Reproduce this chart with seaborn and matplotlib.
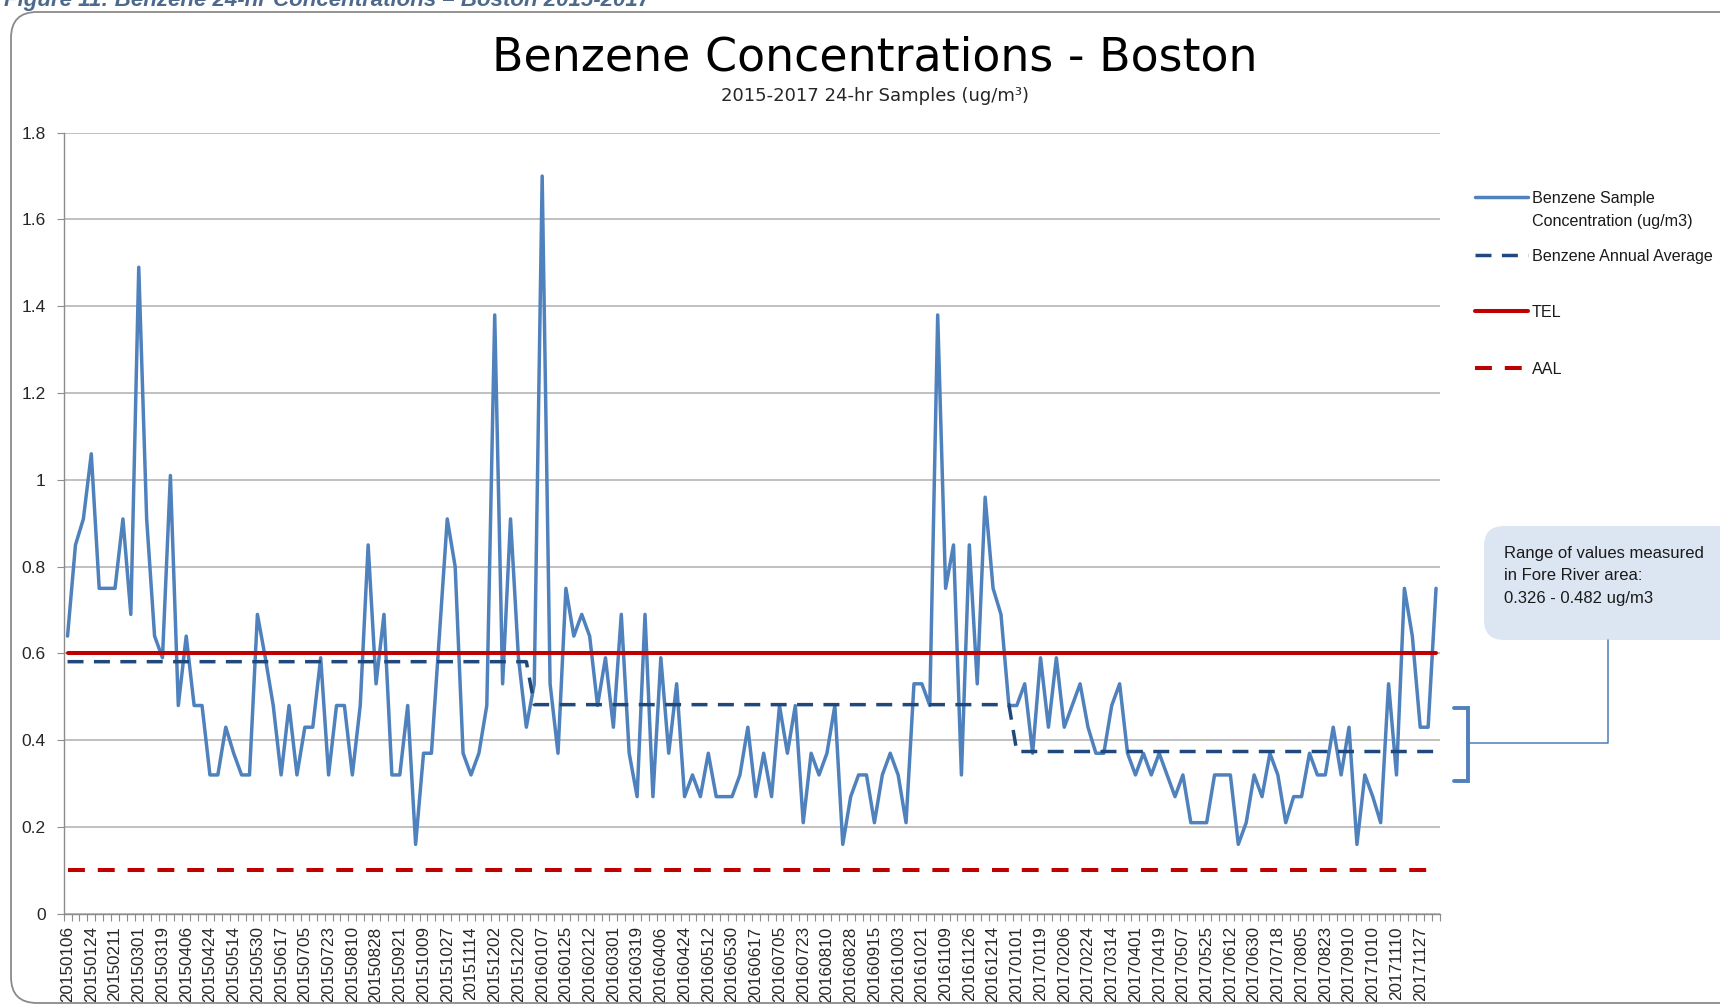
import numpy as np
import pandas as pd
import seaborn as sns
import matplotlib.pyplot as plt
from matplotlib.lines import Line2D
from matplotlib.patches import FancyBboxPatch
from matplotlib.transforms import IdentityTransform

# ============ data (ug/m3), one sample every ~6 days ============
sample_conc = [
    0.64, 0.85, 0.91, 1.06, 0.75, 0.75, 0.75, 0.91, 0.69, 1.49,
    0.91, 0.64, 0.59, 1.01, 0.48, 0.64, 0.48, 0.48, 0.32, 0.32,
    0.43, 0.37, 0.32, 0.32, 0.69, 0.59, 0.48, 0.32, 0.48, 0.32,
    0.43, 0.43, 0.59, 0.32, 0.48, 0.48, 0.32, 0.48, 0.85, 0.53,
    0.69, 0.32, 0.32, 0.48, 0.16, 0.37, 0.37, 0.64, 0.91, 0.80,
    0.37, 0.32, 0.37, 0.48, 1.38, 0.53, 0.91, 0.59, 0.43, 0.53,
    1.70, 0.53, 0.37, 0.75, 0.64, 0.69, 0.64, 0.48, 0.59, 0.43,
    0.69, 0.37, 0.27, 0.69, 0.27, 0.59, 0.37, 0.53, 0.27, 0.32,
    0.27, 0.37, 0.27, 0.27, 0.27, 0.32, 0.43, 0.27, 0.37, 0.27,
    0.48, 0.37, 0.48, 0.21, 0.37, 0.32, 0.37, 0.48, 0.16, 0.27,
    0.32, 0.32, 0.21, 0.32, 0.37, 0.32, 0.21, 0.53, 0.53, 0.48,
    1.38, 0.75, 0.85, 0.32, 0.85, 0.53, 0.96, 0.75, 0.69, 0.48,
    0.48, 0.53, 0.37, 0.59, 0.43, 0.59, 0.43, 0.48, 0.53, 0.43,
    0.37, 0.37, 0.48, 0.53, 0.37, 0.32, 0.37, 0.32, 0.37, 0.32,
    0.27, 0.32, 0.21, 0.21, 0.21, 0.32, 0.32, 0.32, 0.16, 0.21,
    0.32, 0.27, 0.37, 0.32, 0.21, 0.27, 0.27, 0.37, 0.32, 0.32,
    0.43, 0.32, 0.43, 0.16, 0.32, 0.27, 0.21, 0.53, 0.32, 0.75,
    0.64, 0.43, 0.43, 0.75,
]

tick_dates = [
    '20150106', '20150124', '20150211', '20150301', '20150319', '20150406',
    '20150424', '20150514', '20150530', '20150617', '20150705', '20150723',
    '20150810', '20150828', '20150921', '20151009', '20151027', '20151114',
    '20151202', '20151220', '20160107', '20160125', '20160212', '20160301',
    '20160319', '20160406', '20160424', '20160512', '20160530', '20160617',
    '20160705', '20160723', '20160810', '20160828', '20160915', '20161003',
    '20161021', '20161109', '20161126', '20161214', '20170101', '20170119',
    '20170206', '20170224', '20170314', '20170401', '20170419', '20170507',
    '20170525', '20170612', '20170630', '20170718', '20170805', '20170823',
    '20170910', '20171010', '20171110', '20171127',
]

samples_per_year = [59, 61, 54]          # 2015, 2016, 2017
annual_avg = [0.581, 0.482, 0.374]
tel_value = 0.6
aal_value = 0.1

n = len(sample_conc)
data = pd.DataFrame({
    'idx': np.arange(n),
    'sample': sample_conc,
    'annual': np.repeat(annual_avg, samples_per_year),
    'TEL': tel_value,
    'AAL': aal_value,
})

# ============ style ============
sns.set_style('white')
plt.rcParams['font.family'] = ['Liberation Sans', 'DejaVu Sans']

BLUE = '#4f81bd'
NAVY = '#1f497d'
RED = '#c00000'
GRID = '#b5b5b5'
AXIS = '#8c8c8c'
AVG_DASH = (0, (4.6, 3.0))
AAL_DASH = (0, (4.2, 3.2))

fig = plt.figure(figsize=(17.2, 10.07), dpi=100)
W, H = 1720, 1007
ax = fig.add_axes([63.6 / W, 1 - 913.8 / H, (1440 - 63.6) / W, (913.8 - 132.7) / H])

# ============ series ============
sns.lineplot(data=data, x='idx', y='sample', color=BLUE, lw=2.5, ax=ax,
             solid_joinstyle='round', solid_capstyle='round')
sns.lineplot(data=data, x='idx', y='annual', color=NAVY, lw=2.5, ax=ax,
             linestyle=AVG_DASH, dash_capstyle='butt')
sns.lineplot(data=data, x='idx', y='TEL', color=RED, lw=2.9, ax=ax)
sns.lineplot(data=data, x='idx', y='AAL', color=RED, lw=2.9, ax=ax,
             linestyle=AAL_DASH, dash_capstyle='butt')

# ============ axes ============
ax.set_xlim(-0.5, n - 0.5)
ax.set_ylim(0, 1.8)
yt = np.round(np.arange(0, 1.81, 0.2), 1)
ax.set_yticks(yt)
ax.set_yticklabels([f'{v:g}' for v in yt], fontsize=12.5)
ax.yaxis.grid(True, color=GRID, lw=1.2)
ax.set_axisbelow(True)

ax.set_xticks(np.arange(0, n, 3))
ax.set_xticklabels(tick_dates, rotation=90, fontsize=12.3)
ax.set_xticks(np.arange(-0.5, n, 1), minor=True)
ax.tick_params(axis='x', which='major', length=0, pad=9)
ax.tick_params(axis='x', which='minor', length=5, width=0.8, color=AXIS,
               direction='out', bottom=True)
ax.tick_params(axis='y', length=5, width=0.8, color=AXIS, pad=8, left=True)
ax.set_xlabel('')
ax.set_ylabel('')
for side in ['top', 'right']:
    ax.spines[side].set_visible(False)
for side in ['left', 'bottom']:
    ax.spines[side].set_color(AXIS)
    ax.spines[side].set_linewidth(1.0)

# ============ chart frame & titles ============
frame = FancyBboxPatch((11, H - 1003), 1900, 1003 - 12,
                       boxstyle='round,pad=0,rounding_size=26',
                       transform=IdentityTransform(), fill=False,
                       ec='#8a8a8a', lw=1.3)
fig.add_artist(frame)

# caption of the source document, cut by the top edge as in the original
fig.text(4 / W, 1 - 6 / H,
         'Figure 11: Benzene 24-hr Concentrations \u2013 Boston 2015-2017',
         fontsize=16, style='italic', weight='bold', color='#4d6a8c',
         va='baseline', ha='left')

fig.text(875 / W, 1 - 58 / H, 'Benzene Concentrations - Boston',
         ha='center', va='center', fontsize=33, color='black',
         family=['DejaVu Sans'])
fig.text(875 / W, 1 - 96 / H, '2015-2017 24-hr Samples (ug/m\u00b3)',
         ha='center', va='center', fontsize=13, color='#262626',
         family=['DejaVu Sans'])

# ============ legend ============
legend_rows = [
    (197, ['Benzene Sample', 'Concentration (ug/m3)'], BLUE, '-', 2.5),
    (255, ['Benzene Annual Average'], NAVY, AVG_DASH, 2.5),
    (311, ['TEL'], RED, '-', 2.9),
    (368, ['AAL'], RED, AAL_DASH, 2.9),
]
for y, lines, color, ls, lw in legend_rows:
    fig.add_artist(Line2D([1475, 1528], [H - y, H - y],
                          transform=IdentityTransform(), color=color, lw=lw,
                          linestyle=ls, dash_capstyle='butt'))
    for j, line in enumerate(lines):
        fig.text(1532 / W, 1 - (y + 23 * j + 6) / H, line, fontsize=11.6,
                 va='baseline', ha='left', color='#1a1a1a')

# ============ Fore River range callout ============
box = FancyBboxPatch((1484, H - 640), 400, 640 - 526,
                     boxstyle='round,pad=0,rounding_size=20',
                     transform=IdentityTransform(), fc='#dce6f2', ec='none')
fig.add_artist(box)
callout_lines = ['Range of values measured', 'in Fore River area:',
                 '0.326 - 0.482 ug/m3']
for j, line in enumerate(callout_lines):
    fig.text(1504 / W, 1 - (552 + 22.5 * j + 6) / H, line, fontsize=12,
             va='baseline', ha='left', color='#1a1a1a')

bx = [1454, 1468, 1468, 1454]
by = [708, 708, 781, 781]
fig.add_artist(Line2D(bx, [H - v for v in by], transform=IdentityTransform(),
                      color=BLUE, lw=2.8, solid_joinstyle='miter'))
cx = [1469, 1608, 1608]
cy = [743, 743, 640]
fig.add_artist(Line2D(cx, [H - v for v in cy], transform=IdentityTransform(),
                      color='#4a7ebb', lw=1.1))

fig.savefig('out.png', dpi=100)
